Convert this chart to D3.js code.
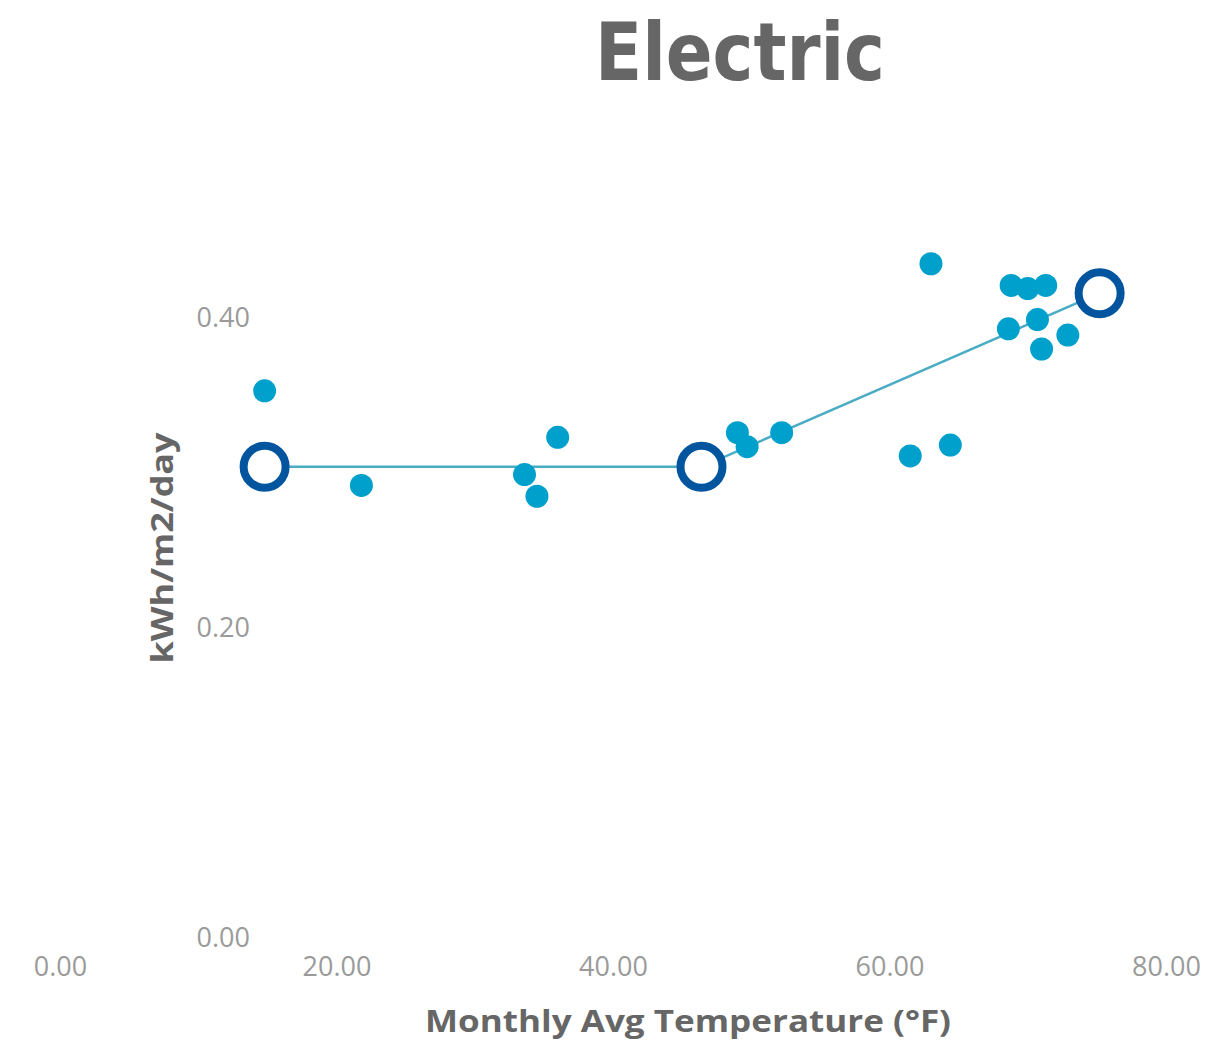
<!DOCTYPE html>
<html><head><meta charset="utf-8">
<script src="https://cdn.jsdelivr.net/npm/d3@7"></script>
<style>body{margin:0;background:#fff}svg{display:block}</style>
</head><body>
<svg id="c" width="1206" height="1045"></svg>
<script>
const xTicks = [0, 20, 40, 60, 80];
const yTicks = [0, 0.2, 0.4];
const tempF = [14.8, 21.8, 33.6, 34.5, 36.0, 49.0, 49.7, 52.2, 61.5, 63.0, 64.4, 68.8, 70.0, 71.3, 68.6, 70.7, 71.0, 72.9];
const usage = [0.353, 0.292, 0.299, 0.285, 0.323, 0.326, 0.317, 0.326, 0.311, 0.435, 0.318, 0.421, 0.419, 0.421, 0.393, 0.399, 0.380, 0.389];
const fitTemp = [14.8, 46.4, 75.2];
const fitUsage = [0.304, 0.304, 0.416];

const svg = d3.select("#c");
const x = d3.scaleLinear().domain([0, 80]).range([60, 1166]);
const y = d3.scaleLinear().domain([0, 0.4]).range([938, 318]);

// title
svg.append("text").attr("x", 740).attr("y", 80).attr("text-anchor", "middle")
  .attr("font-family", "DejaVu Sans Condensed, DejaVu Sans").attr("font-weight", "bold")
  .attr("font-size", 80).attr("fill", "#666666")
  .attr("textLength", 290).attr("lengthAdjust", "spacingAndGlyphs").text("Electric");

// x axis
const xa = svg.append("g").attr("transform", "translate(0,938)")
  .call(d3.axisBottom(x).tickValues(xTicks).tickFormat(d3.format(".2f")).tickSize(0).tickPadding(19));
xa.select(".domain").remove();
xa.selectAll("text").attr("font-family", "Open Sans").attr("font-size", 27).attr("fill", "#9a9a9a");

// y axis
const ya = svg.append("g").attr("transform", "translate(258,0)")
  .call(d3.axisLeft(y).tickValues(yTicks).tickFormat(d3.format(".2f")).tickSize(0).tickPadding(8));
ya.select(".domain").remove();
ya.selectAll("text").attr("font-family", "Open Sans").attr("font-size", 27).attr("fill", "#9a9a9a");

// axis titles
svg.append("text").attr("x", 688).attr("y", 1032).attr("text-anchor", "middle")
  .attr("font-family", "Open Sans").attr("font-weight", "bold").attr("font-size", 31)
  .attr("fill", "#666666").attr("textLength", 526).attr("lengthAdjust", "spacingAndGlyphs")
  .text("Monthly Avg Temperature (°F)");
svg.append("text").attr("transform", "translate(173,548) rotate(-90)").attr("text-anchor", "middle")
  .attr("font-family", "Open Sans").attr("font-weight", "bold").attr("font-size", 31)
  .attr("fill", "#666666").attr("textLength", 231).attr("lengthAdjust", "spacingAndGlyphs")
  .text("kWh/m2/day");

// fit line
const fit = fitTemp.map((t, i) => [t, fitUsage[i]]);
svg.append("path").datum(fit)
  .attr("d", d3.line().x(d => x(d[0])).y(d => y(d[1])))
  .attr("fill", "none").attr("stroke", "#4BACC6").attr("stroke-width", 2.5);

// data points
svg.append("g").selectAll("circle").data(tempF.map((t, i) => [t, usage[i]])).join("circle")
  .attr("cx", d => x(d[0])).attr("cy", d => y(d[1])).attr("r", 11.5)
  .attr("fill", "#00A0CC");

// change points
svg.append("g").selectAll("circle").data(fit).join("circle")
  .attr("cx", d => x(d[0])).attr("cy", d => y(d[1])).attr("r", 21)
  .attr("fill", "#ffffff").attr("stroke", "#00559E").attr("stroke-width", 8);
</script>
</body></html>
